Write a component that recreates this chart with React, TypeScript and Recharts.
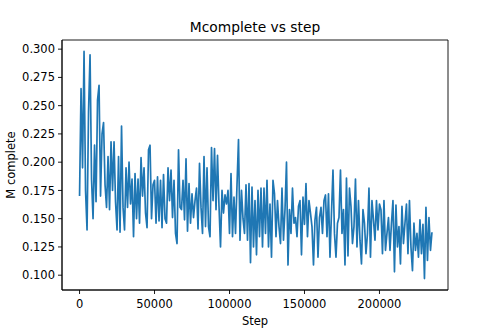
import React from "react";
import { LineChart, Line, XAxis, YAxis, ReferenceArea } from "recharts";

// M complete, one reading every STEP_SIZE steps, starting at step 0
const STEP_SIZE = 1000;
const MCOMPLETE = [
  0.170, 0.265, 0.195, 0.298, 0.175, 0.140, 0.245, 0.295, 0.185, 0.150,
  0.215, 0.165, 0.255, 0.268, 0.170, 0.225, 0.235, 0.180, 0.160, 0.205,
  0.158, 0.218, 0.175, 0.218, 0.165, 0.140, 0.205, 0.138, 0.232, 0.160,
  0.140, 0.195, 0.160, 0.200, 0.163, 0.185, 0.134, 0.190, 0.150, 0.185,
  0.146, 0.204, 0.170, 0.195, 0.155, 0.142, 0.211, 0.215, 0.150, 0.180,
  0.184, 0.146, 0.187, 0.148, 0.184, 0.142, 0.189, 0.150, 0.146, 0.195,
  0.166, 0.193, 0.151, 0.184, 0.137, 0.128, 0.211, 0.160, 0.158, 0.184,
  0.149, 0.203, 0.139, 0.181, 0.146, 0.172, 0.151, 0.166, 0.177, 0.141,
  0.199, 0.160, 0.137, 0.205, 0.143, 0.195, 0.143, 0.134, 0.213, 0.166,
  0.212, 0.158, 0.206, 0.161, 0.125, 0.175, 0.155, 0.171, 0.163, 0.175,
  0.137, 0.190, 0.134, 0.169, 0.137, 0.180, 0.220, 0.131, 0.175, 0.150,
  0.137, 0.180, 0.131, 0.181, 0.111, 0.178, 0.125, 0.166, 0.118, 0.175,
  0.134, 0.177, 0.125, 0.177, 0.137, 0.184, 0.125, 0.163, 0.116, 0.184,
  0.172, 0.134, 0.166, 0.143, 0.128, 0.177, 0.131, 0.158, 0.200, 0.109,
  0.158, 0.137, 0.177, 0.146, 0.151, 0.134, 0.161, 0.166, 0.118, 0.169,
  0.145, 0.181, 0.134, 0.166, 0.155, 0.143, 0.109, 0.149, 0.160, 0.116,
  0.151, 0.160, 0.137, 0.166, 0.171, 0.134, 0.172, 0.116, 0.155, 0.193,
  0.137, 0.116, 0.146, 0.151, 0.193, 0.137, 0.158, 0.109, 0.186, 0.117,
  0.177, 0.161, 0.128, 0.143, 0.185, 0.125, 0.166, 0.131, 0.110, 0.158,
  0.146, 0.119, 0.137, 0.177, 0.116, 0.166, 0.149, 0.131, 0.166, 0.140,
  0.163, 0.158, 0.119, 0.166, 0.122, 0.137, 0.151, 0.122, 0.146, 0.166,
  0.103, 0.162, 0.125, 0.143, 0.110, 0.161, 0.128, 0.146, 0.163, 0.119,
  0.166, 0.125, 0.104, 0.146, 0.122, 0.137, 0.116, 0.149, 0.119, 0.145,
  0.097, 0.160, 0.113, 0.151, 0.122, 0.138,
];

const X_TICKS = [0, 50000, 100000, 150000, 200000];
const Y_TICKS = [0.1, 0.125, 0.15, 0.175, 0.2, 0.225, 0.25, 0.275, 0.3];
const X_DOMAIN: [number, number] = [-11700, 245700];
const Y_DOMAIN: [number, number] = [0.0869, 0.3081];

const data = MCOMPLETE.map((v, i) => ({ step: i * STEP_SIZE, m: v }));

const FONT = "DejaVu Sans, sans-serif";
const tickStyle = { fill: "#000", fontSize: 11.5, fontFamily: FONT };

export default function App() {
  return (
    <div style={{ position: "absolute", left: 0, top: 0, width: 498, height: 332, background: "#fff" }}>
      <div
        style={{
          position: "absolute",
          left: 62,
          width: 386,
          top: 19,
          textAlign: "center",
          fontFamily: FONT,
          fontSize: 13.8,
          color: "#000",
        }}
      >
        Mcomplete vs step
      </div>
      <div
        style={{
          position: "absolute",
          left: 62,
          width: 386,
          top: 314,
          textAlign: "center",
          fontFamily: FONT,
          fontSize: 11.5,
          color: "#000",
        }}
      >
        Step
      </div>
      <div
        style={{
          position: "absolute",
          left: 11,
          top: 165,
          transform: "translate(-50%, -50%) rotate(-90deg)",
          fontFamily: FONT,
          fontSize: 11.5,
          color: "#000",
          whiteSpace: "nowrap",
        }}
      >
        M complete
      </div>
      <LineChart width={498} height={332} data={data} margin={{ top: 40, right: 50, left: 12, bottom: 12 }}>
        <XAxis
          dataKey="step"
          type="number"
          domain={X_DOMAIN}
          ticks={X_TICKS}
          allowDataOverflow
          height={30}
          tick={tickStyle}
          tickSize={4}
          tickMargin={6}
          axisLine={{ stroke: "#000", strokeWidth: 0.9 }}
          tickLine={{ stroke: "#000", strokeWidth: 0.9 }}
        />
        <YAxis
          type="number"
          domain={Y_DOMAIN}
          ticks={Y_TICKS}
          allowDataOverflow
          width={50}
          tick={tickStyle}
          tickSize={4}
          tickMargin={3}
          tickFormatter={(v: number) => v.toFixed(3)}
          axisLine={{ stroke: "#000", strokeWidth: 0.9 }}
          tickLine={{ stroke: "#000", strokeWidth: 0.9 }}
        />
        <ReferenceArea
          x1={X_DOMAIN[0]}
          x2={X_DOMAIN[1]}
          y1={Y_DOMAIN[0]}
          y2={Y_DOMAIN[1]}
          fill="none"
          stroke="#000"
          strokeWidth={0.9}
          fillOpacity={0}
        />
        <Line
          type="linear"
          dataKey="m"
          stroke="#1f77b4"
          strokeWidth={1.7}
          strokeLinejoin="round"
          dot={false}
          activeDot={false}
          isAnimationActive={false}
        />
      </LineChart>
    </div>
  );
}
